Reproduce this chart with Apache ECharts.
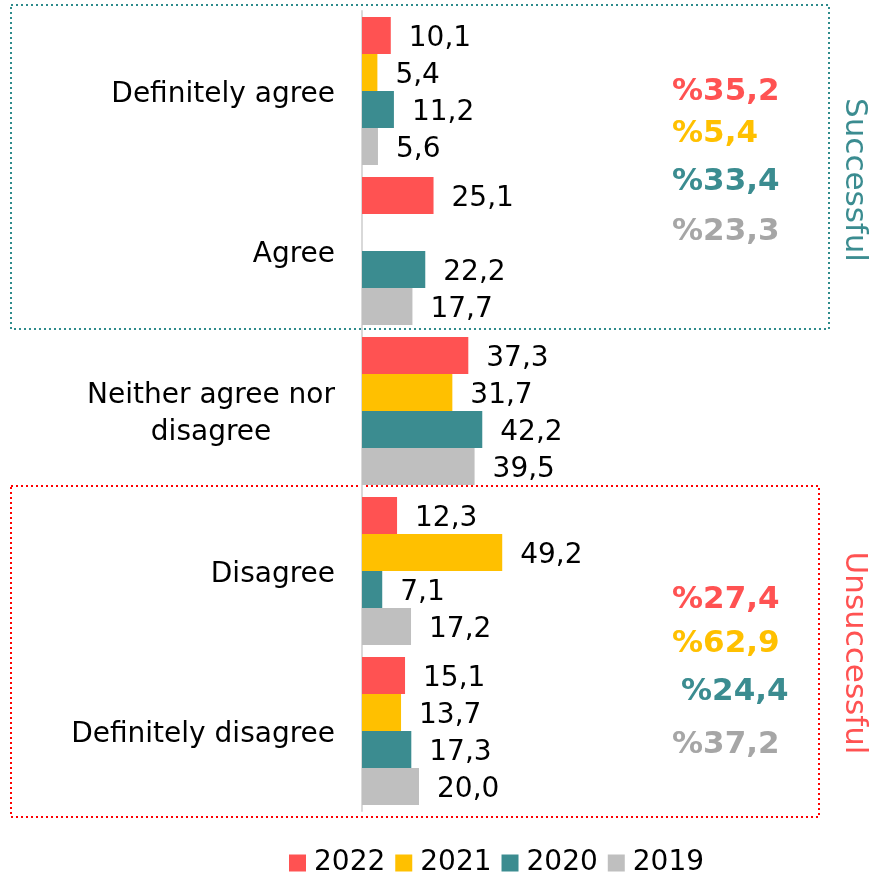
<!DOCTYPE html>
<html>
<head>
<meta charset="utf-8">
<script src="https://cdn.jsdelivr.net/npm/echarts@6/dist/echarts.min.js"></script>
<style>
  html, body { margin: 0; padding: 0; background: #fff; }
  #main { width: 874px; height: 872px; }
</style>
</head>
<body>
<div id="main"></div>
<script>
var categories = ['Definitely agree', 'Agree', 'Neither agree nor\ndisagree', 'Disagree', 'Definitely disagree'];
var years = ['2022', '2021', '2020', '2019'];
var v2022 = [10.1, 25.1, 37.3, 12.3, 15.1];
var v2021 = [5.4, null, 31.7, 49.2, 13.7];
var v2020 = [11.2, 22.2, 42.2, 7.1, 17.3];
var v2019 = [5.6, 17.7, 39.5, 17.2, 20.0];
var colors = ['#FF5252', '#FFC000', '#3B8C90', '#BFBFBF'];
var textColors = ['#FF5252', '#FFC000', '#3B8C90', '#A6A6A6'];

var allValues = [v2022, v2021, v2020, v2019];
function fmt(v) { return v.toFixed(1).replace('.', ','); }
// successful = definitely agree + agree, unsuccessful = disagree + definitely disagree
var successful = allValues.map(function (a) { return (a[0] || 0) + (a[1] || 0); });
var unsuccessful = allValues.map(function (a) { return (a[3] || 0) + (a[4] || 0); });

var chart = echarts.init(document.getElementById('main'));
var font = 'DejaVu Sans';

var series = years.map(function (y, i) {
  return {
    name: y,
    type: 'bar',
    data: allValues[i],
    barGap: '0%',
    barCategoryGap: '7.5%',
    itemStyle: { color: colors[i] },
    label: {
      show: true,
      position: 'right',
      distance: 18,
      offset: [0, 3],
      color: '#000',
      fontSize: 28,
      fontFamily: font,
      formatter: function (p) { return p.value == null ? '' : fmt(p.value); }
    }
  };
});

var graphics = [
  { type: 'rect', shape: { x: 11, y: 5, width: 818, height: 324 },
    style: { fill: 'none', stroke: '#2E8B8B', lineWidth: 2, lineDash: [2, 3] } },
  { type: 'rect', shape: { x: 11, y: 486, width: 808, height: 331 },
    style: { fill: 'none', stroke: '#FF0000', lineWidth: 2, lineDash: [2, 3] } },
  { type: 'text', x: 854, y: 180, rotation: -Math.PI / 2,
    style: { text: 'Successful', fill: '#3B8C90', font: '31px ' + font, align: 'center', verticalAlign: 'middle' } },
  { type: 'text', x: 854, y: 653, rotation: -Math.PI / 2,
    style: { text: 'Unsuccessful', fill: '#FF5252', font: '31px ' + font, align: 'center', verticalAlign: 'middle' } }
];
var topY = [92, 134, 182, 232];
var botY = [600, 644, 692, 745];
var botX = [672, 672, 681, 672];
for (var i = 0; i < 4; i++) {
  graphics.push({ type: 'text', x: 672, y: topY[i],
    style: { text: '%' + fmt(successful[i]), fill: textColors[i], font: 'bold 31px ' + font, verticalAlign: 'middle' } });
  graphics.push({ type: 'text', x: botX[i], y: botY[i],
    style: { text: '%' + fmt(unsuccessful[i]), fill: textColors[i], font: 'bold 31px ' + font, verticalAlign: 'middle' } });
}

var option = {
  backgroundColor: '#fff',
  animation: false,
  textStyle: { fontFamily: font },
  grid: { left: 362, top: 11, width: 171, height: 800 },
  legend: {
    data: years,
    top: 844,
    left: 284,
    itemWidth: 17,
    itemHeight: 17,
    itemGap: 10,
    icon: 'rect',
    textStyle: { fontSize: 28, color: '#000', fontFamily: font, padding: [0, 0, 0, 3] }
  },
  xAxis: {
    type: 'value',
    min: 0,
    max: 60,
    show: false
  },
  yAxis: {
    type: 'category',
    data: categories,
    inverse: true,
    axisLine: { show: true, lineStyle: { color: '#D9D9D9', width: 2 } },
    axisTick: { show: false },
    axisLabel: {
      fontSize: 28, color: '#000', margin: 27, fontFamily: font, lineHeight: 37,
      padding: [7, 0, 0, 0],
      formatter: function (v) {
        return v.split('\n').map(function (s) { return '{c|' + s + '}'; }).join('\n');
      },
      rich: { c: { fontSize: 28, color: '#000', fontFamily: font, lineHeight: 37, align: 'center' } }
    }
  },
  series: series,
  graphic: graphics
};
chart.setOption(option);
</script>
</body>
</html>
